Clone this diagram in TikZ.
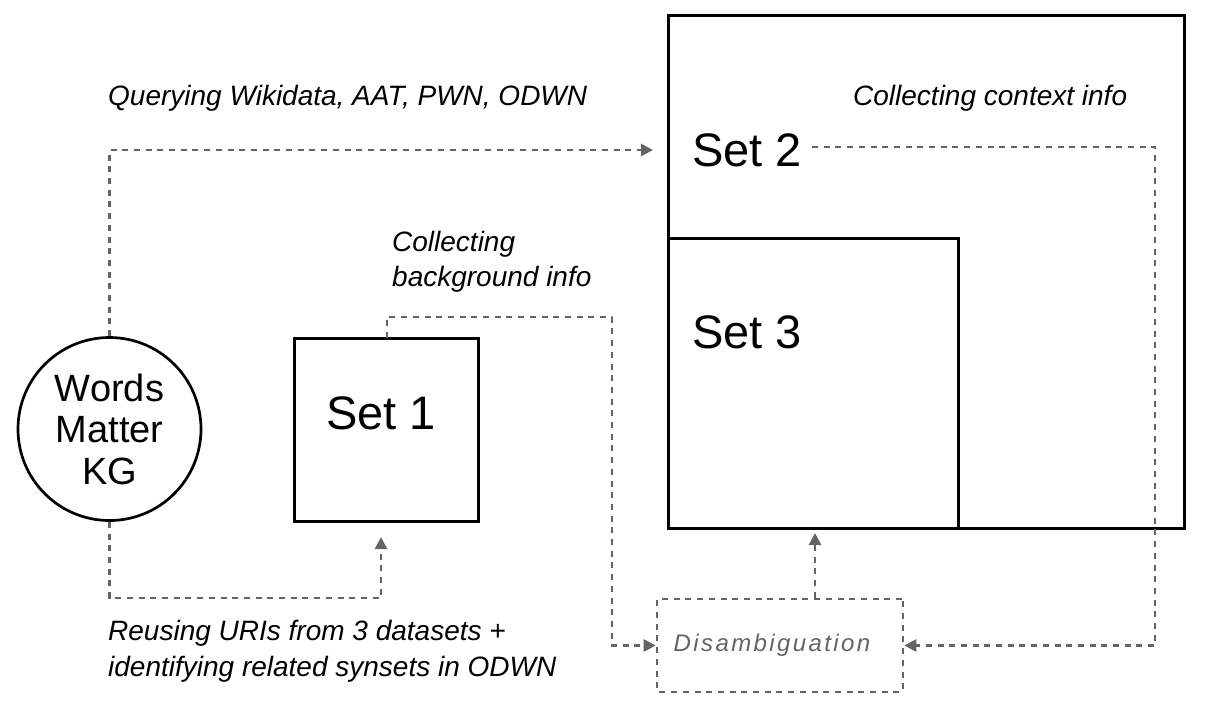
\documentclass[tikz,border=0pt]{standalone}
\usepackage{fontspec}
\setmainfont{Liberation Sans}
\usetikzlibrary{arrows.meta,calc}
\definecolor{lgray}{HTML}{646464}
\tikzset{
  conn/.style={draw=lgray, line width=2.7pt, dash pattern=on 6pt off 5.7pt},
  arr/.style={conn, -{Triangle[length=12pt,width=12pt]}},
  blackbox/.style={draw=black, line width=3pt, inner sep=0pt},
  lbl/.style={font=\fontsize{28}{35.5}\selectfont\itshape, inner sep=0pt, align=left},
  settext/.style={font=\fontsize{47}{50}\selectfont, inner sep=0pt},
}
\begin{document}
\begin{tikzpicture}[x=1pt,y=-1pt]
\useasboundingbox (0,0) rectangle (1217,713);
% shapes
\node[circle, draw=black, line width=2.7pt, minimum size=183pt, inner sep=0pt,
      font=\fontsize{38}{41.5}\selectfont, align=center] (kg) at (109.5,429) {Words\\Matter\\KG};
\node[blackbox, minimum width=184pt, minimum height=183pt] (set1) at (386,429.5) {};
\node[settext] (set1t) at (381,413) {Set 1};
\node[blackbox, minimum width=516pt, minimum height=513pt] (set2) at (926,271.5) {};
\node[blackbox, minimum width=290pt, minimum height=290pt] (set3) at (813,383) {};
\node[settext, anchor=west] (set2t) at (692,150) {Set 2};
\node[settext, anchor=west] (set3t) at (692,332) {Set 3};
\node[conn, minimum width=246pt, minimum height=93pt, inner sep=0pt, rounded corners=1pt] (dis) at (780,645.5) {};
\node[text=lgray, inner sep=0pt, font=\fontsize{24}{28}\selectfont\itshape\addfontfeature{LetterSpace=10}] (dist) at (772,645) {Disambiguation};
% labels
\node[lbl, anchor=west] (q) at (108,98) {Querying Wikidata, AAT, PWN, ODWN};
\node[lbl, anchor=west] (cc) at (853,98) {Collecting context info};
\node[lbl, anchor=north west] (cb) at (392,231) {Collecting\\background info};
\node[lbl, anchor=north west] (ru) at (108,620) {Reusing URIs from 3 datasets +\\identifying related synsets in ODWN};
% free ends
\coordinate (e1) at (653,150);
\coordinate (e2) at (381,537);
\coordinate (s3) at (387,338);
\coordinate (s4) at (812,147);
% connectors
\draw[arr] (kg.north) -- (kg.north |- e1) -- (e1);
\draw[arr] (kg.south) -- (109.5,598) -- (381,598) -- (e2);
\draw[arr] (s3) -- (387,317) -- (612,317) -- (612,645.5) -- (dis.west);
\draw[arr] (s4) -- (1155,147) -- (1155,645.5) -- (dis.east);
\draw[arr] (dis.north -| 815,0) -- (815,533);
\end{tikzpicture}
\end{document}
